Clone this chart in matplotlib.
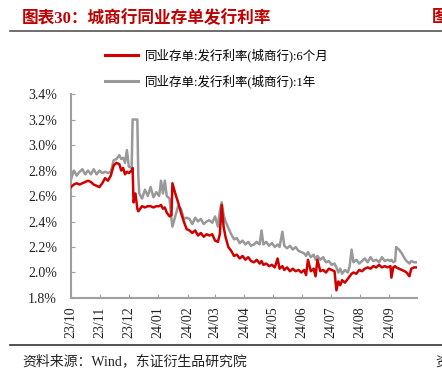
import pandas as pd
import matplotlib.pyplot as plt
import matplotlib.dates as mdates
from matplotlib.lines import Line2D
from matplotlib.ticker import FuncFormatter

plt.rcParams['font.family'] = ['Liberation Serif', 'Noto Sans CJK SC']
plt.rcParams['axes.unicode_minus'] = False

# 数据
dates = [
    '2023-10-01', '2023-10-04', '2023-10-07', '2023-10-10', '2023-10-13', '2023-10-16',
    '2023-10-19', '2023-10-22', '2023-10-25', '2023-10-28', '2023-10-31', '2023-11-03',
    '2023-11-06', '2023-11-09', '2023-11-12', '2023-11-15', '2023-11-18', '2023-11-21',
    '2023-11-23', '2023-11-25', '2023-11-27', '2023-11-29', '2023-12-01', '2023-12-04',
    '2023-12-05', '2023-12-06', '2023-12-08', '2023-12-10', '2023-12-11', '2023-12-12',
    '2023-12-15', '2023-12-18', '2023-12-21', '2023-12-24', '2023-12-27', '2023-12-30',
    '2024-01-02', '2024-01-04', '2024-01-06', '2024-01-08', '2024-01-10', '2024-01-13',
    '2024-01-15', '2024-01-16', '2024-01-19', '2024-01-22', '2024-01-25', '2024-01-28',
    '2024-01-31', '2024-02-03', '2024-02-06', '2024-02-09', '2024-02-12', '2024-02-15',
    '2024-02-18', '2024-02-21', '2024-02-24', '2024-02-27', '2024-03-01', '2024-03-04',
    '2024-03-06', '2024-03-08', '2024-03-10', '2024-03-12', '2024-03-15', '2024-03-18',
    '2024-03-21', '2024-03-24', '2024-03-27', '2024-03-30', '2024-04-02', '2024-04-05',
    '2024-04-08', '2024-04-11', '2024-04-14', '2024-04-17', '2024-04-19', '2024-04-21',
    '2024-04-24', '2024-04-27', '2024-04-30', '2024-05-03', '2024-05-06', '2024-05-08',
    '2024-05-11', '2024-05-13', '2024-05-16', '2024-05-19', '2024-05-22', '2024-05-25',
    '2024-05-28', '2024-05-31', '2024-06-03', '2024-06-05', '2024-06-07', '2024-06-10',
    '2024-06-13', '2024-06-15', '2024-06-17', '2024-06-20', '2024-06-23', '2024-06-26',
    '2024-06-29', '2024-07-02', '2024-07-05', '2024-07-07', '2024-07-09', '2024-07-11',
    '2024-07-13', '2024-07-16', '2024-07-19', '2024-07-21', '2024-07-23', '2024-07-25',
    '2024-07-28', '2024-07-31', '2024-08-03', '2024-08-06', '2024-08-09', '2024-08-12',
    '2024-08-15', '2024-08-18', '2024-08-21', '2024-08-24', '2024-08-27', '2024-08-30',
    '2024-09-02', '2024-09-03', '2024-09-05', '2024-09-07', '2024-09-08', '2024-09-11',
    '2024-09-14', '2024-09-17', '2024-09-19', '2024-09-22', '2024-09-24', '2024-09-27',
    '2024-09-30',
]
rate_6m = [
    2.67, 2.69, 2.70, 2.69, 2.70, 2.71, 2.72, 2.71, 2.69, 2.68, 2.67, 2.70,
    2.74, 2.72, 2.76, 2.84, 2.86, 2.85, 2.80, 2.82, 2.77, 2.79, 2.78, 2.80,
    2.82, 2.55, 2.62, 2.50, 2.48, 2.49, 2.52, 2.51, 2.52, 2.52, 2.51, 2.52,
    2.52, 2.53, 2.50, 2.51, 2.47, 2.44, 2.45, 2.70, 2.62, 2.55, 2.47, 2.40,
    2.34, 2.33, 2.31, 2.33, 2.29, 2.31, 2.28, 2.30, 2.29, 2.30, 2.25, 2.24,
    2.30, 2.53, 2.36, 2.28, 2.20, 2.17, 2.13, 2.14, 2.11, 2.13, 2.10, 2.12,
    2.09, 2.08, 2.10, 2.07, 2.09, 2.06, 2.07, 2.05, 2.06, 2.04, 2.11, 2.03,
    2.05, 2.02, 2.04, 2.01, 2.03, 2.01, 2.02, 2.00, 2.02, 1.98, 2.10, 2.01,
    2.03, 1.97, 2.10, 2.01, 2.02, 2.00, 2.03, 2.02, 2.01, 1.86, 1.93, 1.90,
    1.94, 1.92, 1.95, 1.97, 1.99, 2.00, 1.99, 2.02, 2.01, 2.03, 2.04, 2.03,
    2.05, 2.04, 2.06, 2.04, 2.05, 2.04, 2.05, 1.96, 2.04, 2.05, 2.04, 2.03,
    2.02, 2.01, 2.00, 1.97, 2.03, 2.04, 2.04,
]
rate_1y = [
    2.73, 2.80, 2.76, 2.79, 2.81, 2.77, 2.80, 2.77, 2.81, 2.77, 2.80, 2.78,
    2.79, 2.78, 2.79, 2.88, 2.89, 2.92, 2.89, 2.90, 2.86, 2.96, 2.83, 2.82,
    3.20, 3.20, 3.20, 3.20, 2.76, 2.62, 2.58, 2.65, 2.60, 2.67, 2.59, 2.63,
    2.60, 2.72, 2.62, 2.72, 2.60, 2.58, 2.42, 2.36, 2.44, 2.52, 2.50, 2.42,
    2.43, 2.42, 2.38, 2.43, 2.40, 2.42, 2.38, 2.40, 2.41, 2.39, 2.44, 2.36,
    2.48, 2.55, 2.45, 2.40, 2.35, 2.30, 2.26, 2.27, 2.23, 2.25, 2.22, 2.24,
    2.21, 2.22, 2.24, 2.22, 2.33, 2.22, 2.24, 2.21, 2.23, 2.20, 2.22, 2.20,
    2.32, 2.21, 2.19, 2.21, 2.18, 2.20, 2.17, 2.16, 2.15, 2.13, 2.16, 2.12,
    2.14, 2.10, 2.13, 2.10, 2.12, 2.08, 2.09, 2.06, 2.07, 2.04, 2.00, 2.03,
    1.99, 2.02, 2.00, 2.05, 2.18, 2.08, 2.10, 2.07, 2.09, 2.11, 2.08, 2.12,
    2.09, 2.10, 2.08, 2.12, 2.09, 2.10, 2.09, 2.10, 2.08, 2.09, 2.20, 2.18,
    2.15, 2.11, 2.09, 2.07, 2.09, 2.08, 2.08,
]
labels = ['同业存单:发行利率(城商行):6个月', '同业存单:发行利率(城商行):1年']
y_ticks = [1.8, 2.0, 2.2, 2.4, 2.6, 2.8, 3.0, 3.2, 3.4]

red = '#d00000'
grey = '#999999'
x = pd.to_datetime(dates)

fig = plt.figure(figsize=(4.42, 3.8), dpi=100)
ax = fig.add_axes([0.1606, 0.2158, 0.7828, 0.5368])

ax.plot(x, rate_1y, color=grey, lw=1.8, label=labels[1], zorder=2)
ax.plot(x, rate_6m, color=red, lw=1.8, label=labels[0], zorder=3)

ax.set_xlim(pd.Timestamp('2023-10-01'), pd.Timestamp('2024-09-30'))
ax.set_ylim(1.8, 3.4)
ax.set_yticks(y_ticks)
ax.yaxis.set_major_formatter(FuncFormatter(lambda v, p: f'{v:.1f}%'))
ax.xaxis.set_major_locator(mdates.MonthLocator())
ax.xaxis.set_major_formatter(mdates.DateFormatter('%y/%m'))
ax.tick_params(axis='x', direction='in', length=3, color='#a0a0a0', labelsize=10,
               labelrotation=90, pad=6, labelcolor='#222222')
ax.tick_params(axis='y', direction='in', length=3, color='#a0a0a0', labelsize=10,
               pad=10, labelcolor='#222222')
for s in ['top', 'right']:
    ax.spines[s].set_visible(False)
for s in ['left', 'bottom']:
    ax.spines[s].set_color('#a0a0a0')
    ax.spines[s].set_linewidth(1.5)

handles = [Line2D([], [], color=red, lw=2.2), Line2D([], [], color=grey, lw=2.2)]
fig.legend(handles, labels, loc='upper left', bbox_to_anchor=(0.238, 0.872),
           frameon=False, fontsize=9, handlelength=2.6, handletextpad=0.6,
           labelspacing=0.95, borderpad=0, borderaxespad=0)

# 标题与页眉页脚
fig.text(0.05, 0.952, '图表30：城商行同业存单发行利率', color='#c00000', fontsize=12,
         fontweight='bold', ha='left', va='center')
fig.text(0.978, 0.952, '图', color='#c00000', fontsize=12, fontweight='bold',
         ha='left', va='center')
fig.add_artist(Line2D([0.022, 1.0], [0.918, 0.918], color='#555555', lw=1.2))
fig.add_artist(Line2D([0.022, 1.0], [0.092, 0.092], color='#333333', lw=1.2))
fig.text(0.05, 0.048, '资料来源：Wind，东证衍生品研究院', color='#222222', fontsize=10,
         ha='left', va='center')
fig.text(0.985, 0.048, '资', color='#222222', fontsize=10, ha='left', va='center')

fig.savefig('out.png', dpi=100)
